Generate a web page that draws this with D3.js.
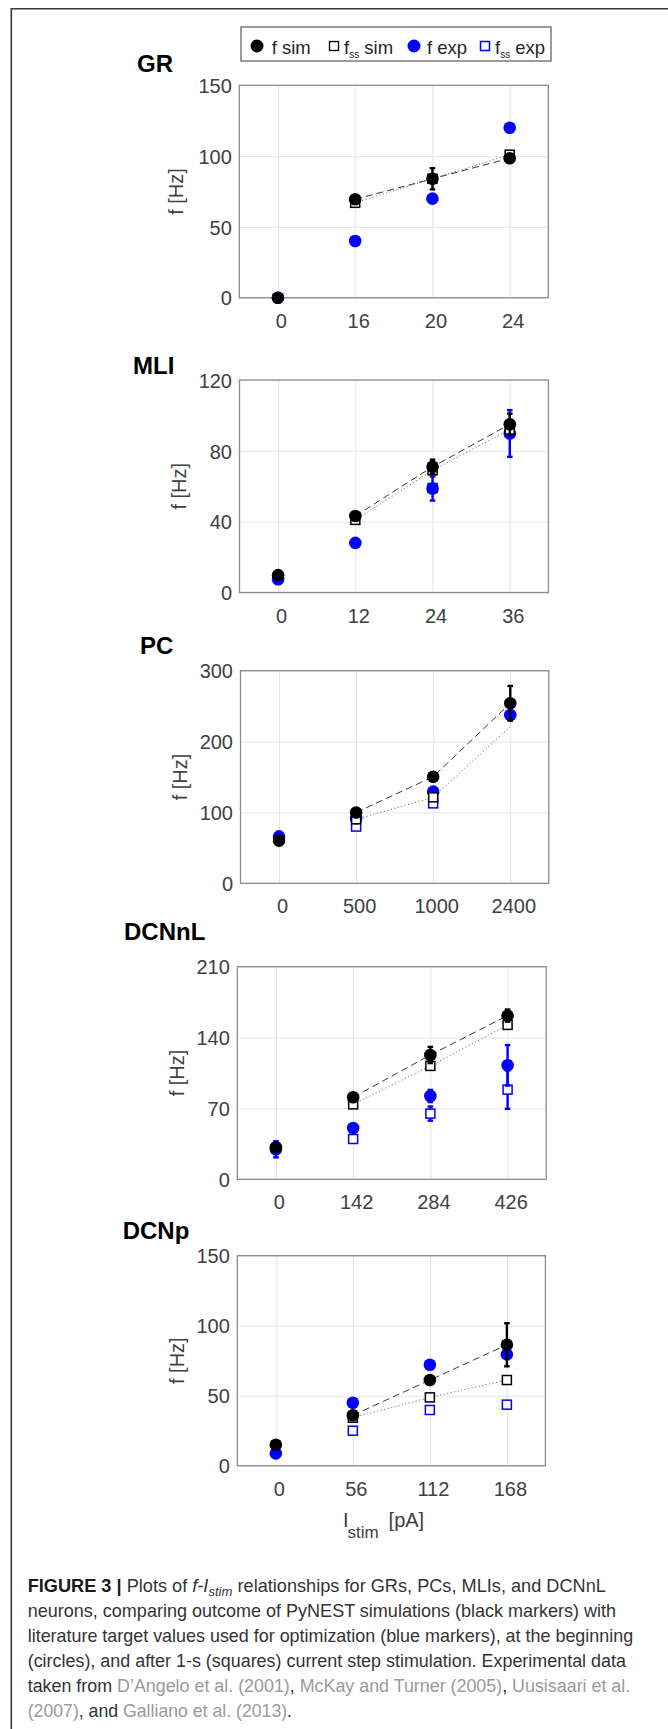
<!DOCTYPE html>
<html>
<head>
<meta charset="utf-8">
<script src="https://cdn.jsdelivr.net/npm/d3@7"></script>
<style>
  html, body { margin: 0; padding: 0; background: #fff; }
  svg { display: block; font-family: "Liberation Sans", Arial, Helvetica, sans-serif; }
</style>
</head>
<body>
<svg id="fig" width="668" height="1729"></svg>
<script>
// ---- f-I data per cell type (Hz); null = no marker ----
// GR
const grStim      = ["0", "16", "20", "24"];
const grFSim      = [0, 69.5, 84, 98.5];
const grFSimErr   = [0, 0, 7.5, 0];
const grFssSim    = [null, 67, 84, 101];
const grFExp      = [0, 40, 70, 120];
const grFExpErr   = [0, 0, 0, 0];
const grFssExp    = [null, null, null, null];
const grFssExpErr = [0, 0, 0, 0];
const grYTicks    = [0, 50, 100, 150];

// MLI
const mliStim      = ["0", "12", "24", "36"];
const mliFSim      = [9.8, 43.2, 71, 95];
const mliFSimErr   = [0, 0, 4, 6];
const mliFssSim    = [null, 41, 69, 92];
const mliFExp      = [7.5, 28, 58.7, 89.8];
const mliFExpErr   = [2, 0, 6.8, 13.2];
const mliFssExp    = [null, null, 59, 90.5];
const mliFssExpErr = [0, 0, 0, 0];
const mliYTicks    = [0, 40, 80, 120];

// PC (steady-state sim at 2400 pA is joined by the dotted line but carries no marker)
const pcStim       = ["0", "500", "1000", "2400"];
const pcFSim       = [60.2, 100, 150.4, 254];
const pcFSimErr    = [0, 0, 0, 24.5];
const pcFssSim     = [null, 90.3, 121.3, 221];
const pcFssSimMark = [true, true, true, false];
const pcFExp       = [65.8, 91.7, 129.3, 237.4];
const pcFExpErr    = [7, 0, 0, 0];
const pcFssExp     = [null, 80, 112.8, null];
const pcFssExpErr  = [0, 0, 0, 0];
const pcYTicks     = [0, 100, 200, 300];

// DCNnL
const dcnlStim      = ["0", "142", "284", "426"];
const dcnlFSim      = [31.6, 81, 122.8, 161.7];
const dcnlFSimErr   = [0, 0, 8, 6];
const dcnlFssSim    = [null, 74, 112, 152.5];
const dcnlFExp      = [29.6, 50.7, 82.3, 112.6];
const dcnlFExpErr   = [8, 0, 6, 20];
const dcnlFssExp    = [null, 39.8, 64.9, 88.6];
const dcnlFssExpErr = [0, 0, 7, 19];
const dcnlYTicks    = [0, 70, 140, 210];

// DCNp
const dcnpStim      = ["0", "56", "112", "168"];
const dcnpFSim      = [15, 36, 61.2, 86.4];
const dcnpFSimErr   = [0, 0, 0, 15.4];
const dcnpFssSim    = [null, 34.3, 48.8, 61.2];
const dcnpFExp      = [8.8, 45, 72.1, 79.5];
const dcnpFExpErr   = [0, 0, 0, 0];
const dcnpFssExp    = [null, 25, 39.8, 43.6];
const dcnpFssExpErr = [0, 0, 0, 0];
const dcnpYTicks    = [0, 50, 100, 150];

const panelNames = ["GR", "MLI", "PC", "DCNnL", "DCNp"];
const legendLabels = ["f sim", "f_ss sim", "f exp", "f_ss exp"];

// ---- assemble panel records ----
const panels = [
  [grStim, grFSim, grFSimErr, grFssSim, grFExp, grFExpErr, grFssExp, grFssExpErr, grYTicks, null],
  [mliStim, mliFSim, mliFSimErr, mliFssSim, mliFExp, mliFExpErr, mliFssExp, mliFssExpErr, mliYTicks, null],
  [pcStim, pcFSim, pcFSimErr, pcFssSim, pcFExp, pcFExpErr, pcFssExp, pcFssExpErr, pcYTicks, pcFssSimMark],
  [dcnlStim, dcnlFSim, dcnlFSimErr, dcnlFssSim, dcnlFExp, dcnlFExpErr, dcnlFssExp, dcnlFssExpErr, dcnlYTicks, null],
  [dcnpStim, dcnpFSim, dcnpFSimErr, dcnpFssSim, dcnpFExp, dcnpFExpErr, dcnpFssExp, dcnpFssExpErr, dcnpYTicks, null]
].map((a, i) => ({
  name: panelNames[i], stim: a[0], fSim: a[1], fSimErr: a[2], fssSim: a[3],
  fExp: a[4], fExpErr: a[5], fssExp: a[6], fssExpErr: a[7], yTicks: a[8],
  fssSimMark: a[9] || a[0].map(() => true)
}));

// ---- page layout of the five axes ----
const layout = [
  { left: 239.3, right: 548.3, top: 85.3,  bottom: 297.7,  titleX: 137,   titleY: 71.5,  ylabX: 176 },
  { left: 239.5, right: 548.4, top: 380,   bottom: 592.5,  titleX: 133,   titleY: 373.5, ylabX: 179 },
  { left: 240.5, right: 548.8, top: 670.7, bottom: 883.3,  titleX: 140,   titleY: 653.5, ylabX: 180 },
  { left: 237.3, right: 546.2, top: 966.7, bottom: 1179.3, titleX: 124,   titleY: 940,   ylabX: 177 },
  { left: 237.3, right: 545.4, top: 1255.7,bottom: 1465.7, titleX: 122.7, titleY: 1239,  ylabX: 177 }
];

const BLUE = "#0000ff";
const TXT = "#404040";
const svg = d3.select("#fig");

// outer frame (top and left rules)
svg.append("path")
  .attr("d", "M11.3,1729 L11.3,8.7 L668,8.7")
  .attr("fill", "none").attr("stroke", "#3a3a3a").attr("stroke-width", 1.6);

// ---- legend ----
const lg = svg.append("g");
lg.append("rect").attr("x", 241).attr("y", 27).attr("width", 310).attr("height", 34)
  .attr("fill", "#fff").attr("stroke", "#3a3a3a").attr("stroke-width", 1);

function legendText(x, label) {
  const t = lg.append("text").attr("x", x).attr("y", 53.5)
    .attr("font-size", 18.5).attr("fill", "#262626");
  const parts = label.split("_");
  if (parts.length === 1) {
    t.text(label);
  } else {
    const rest = parts[1].split(" ");
    t.append("tspan").text(parts[0]);
    t.append("tspan").attr("font-size", 10).attr("dy", 4).text(rest[0]);
    t.append("tspan").attr("dy", -4).text(" " + rest.slice(1).join(" "));
  }
}
lg.append("circle").attr("cx", 257).attr("cy", 46).attr("r", 6.5).attr("fill", "#000");
legendText(271.7, legendLabels[0]);
lg.append("rect").attr("x", 334 - 4.5).attr("y", 46 - 4.5).attr("width", 9).attr("height", 9)
  .attr("fill", "#fff").attr("stroke", "#000").attr("stroke-width", 1.3);
legendText(344, legendLabels[1]);
lg.append("circle").attr("cx", 414).attr("cy", 46).attr("r", 6.5).attr("fill", BLUE);
legendText(427, legendLabels[2]);
lg.append("rect").attr("x", 485 - 4.5).attr("y", 46 - 4.5).attr("width", 9).attr("height", 9)
  .attr("fill", "#fff").attr("stroke", BLUE).attr("stroke-width", 1.5);
legendText(495, legendLabels[3]);

// ---- panels ----
panels.forEach((p, i) => {
  const L = layout[i];
  const w = L.right - L.left, h = L.bottom - L.top;
  const x = d3.scalePoint().domain(p.stim).range([L.left, L.right]).padding(0.5);
  const y = d3.scaleLinear().domain([0, d3.max(p.yTicks)]).range([L.bottom, L.top]);
  const g = svg.append("g");

  // title
  g.append("text").attr("x", L.titleX).attr("y", L.titleY)
    .attr("font-size", 24).attr("font-weight", "bold").attr("fill", "#000").text(p.name);

  // grid
  const gx = g.append("g").attr("transform", `translate(0,${L.bottom})`)
    .call(d3.axisBottom(x).tickSize(-h).tickFormat(""));
  const gy = g.append("g").attr("transform", `translate(${L.left},0)`)
    .call(d3.axisLeft(y).tickValues(p.yTicks).tickSize(-w).tickFormat(""));
  [gx, gy].forEach(a => {
    a.select(".domain").remove();
    a.selectAll("line").attr("stroke", "#e6e6e6").attr("stroke-width", 1);
  });

  // box
  g.append("rect").attr("x", L.left).attr("y", L.top).attr("width", w).attr("height", h)
    .attr("fill", "none").attr("stroke", "#8c8c8c").attr("stroke-width", 1.3);

  // tick labels
  const ax = g.append("g").attr("transform", `translate(0,${L.bottom})`)
    .call(d3.axisBottom(x).tickSize(0));
  ax.select(".domain").remove();
  ax.selectAll("text").attr("y", 30).attr("dy", null).attr("dx", 3)
    .attr("font-size", 20).attr("font-family", null).attr("fill", TXT);
  const ay = g.append("g").attr("transform", `translate(${L.left},0)`)
    .call(d3.axisLeft(y).tickValues(p.yTicks).tickSize(0).tickPadding(7.5));
  ay.select(".domain").remove();
  ay.selectAll("text").attr("font-size", 20).attr("font-family", null).attr("fill", TXT)
    .attr("dy", "0.36em");

  // y label
  g.append("text")
    .attr("transform", `translate(${L.ylabX},${(L.top + L.bottom) / 2}) rotate(-90)`)
    .attr("text-anchor", "middle").attr("dy", "0.35em")
    .attr("font-size", 20).attr("fill", TXT).text("f [Hz]");

  const idx = d3.range(p.stim.length);
  const pts = (vals) => idx.map(k => ({ k, v: vals[k] }));

  // connecting lines for the stimulated steps
  const line = d3.line().defined(d => d.v != null && d.k > 0)
    .x(d => x(p.stim[d.k])).y(d => y(d.v));
  g.append("path").datum(pts(p.fssSim)).attr("d", line)
    .attr("fill", "none").attr("stroke", "#707070").attr("stroke-width", 1)
    .attr("stroke-dasharray", "1.2,2.4");
  g.append("path").datum(pts(p.fSim)).attr("d", line)
    .attr("fill", "none").attr("stroke", "#3a3a3a").attr("stroke-width", 1)
    .attr("stroke-dasharray", "7,4");

  function errBars(vals, errs, color) {
    const d = pts(vals).filter(o => o.v != null && errs[o.k] > 0);
    const eg = g.append("g").attr("stroke", color).attr("stroke-width", 2.4);
    d.forEach(o => {
      const cx = x(p.stim[o.k]);
      const y0 = y(o.v - errs[o.k]), y1 = y(o.v + errs[o.k]);
      eg.append("line").attr("x1", cx).attr("x2", cx).attr("y1", y0).attr("y2", y1);
      eg.append("line").attr("x1", cx - 2.8).attr("x2", cx + 2.8).attr("y1", y0).attr("y2", y0);
      eg.append("line").attr("x1", cx - 2.8).attr("x2", cx + 2.8).attr("y1", y1).attr("y2", y1);
    });
  }
  function squares(vals, color, shown) {
    g.append("g").selectAll("rect")
      .data(pts(vals).filter(o => o.v != null && (!shown || shown[o.k]))).join("rect")
      .attr("x", o => x(p.stim[o.k]) - 4.5).attr("y", o => y(o.v) - 4.5)
      .attr("width", 9).attr("height", 9)
      .attr("fill", "#fff").attr("stroke", color).attr("stroke-width", 1.5);
  }
  function circles(vals, color) {
    g.append("g").selectAll("circle").data(pts(vals).filter(o => o.v != null)).join("circle")
      .attr("cx", o => x(p.stim[o.k])).attr("cy", o => y(o.v)).attr("r", 6.3)
      .attr("fill", color);
  }

  errBars(p.fssExp, p.fssExpErr, BLUE);
  squares(p.fssExp, BLUE);
  errBars(p.fExp, p.fExpErr, BLUE);
  circles(p.fExp, BLUE);
  squares(p.fssSim, "#000", p.fssSimMark);
  errBars(p.fSim, p.fSimErr, "#000");
  circles(p.fSim, "#000");
});

// x-axis label under the last panel
const xl = svg.append("text").attr("font-size", 20).attr("fill", TXT);
xl.append("tspan").attr("x", 343).attr("y", 1527).text("I");
xl.append("tspan").attr("x", 347.5).attr("y", 1537.5).attr("font-size", 17).text("stim");
xl.append("tspan").attr("x", 388.6).attr("y", 1527).text("[pA]");

// ---- caption ----
const DARK = "#333", GREY = "#9a9a9a";
const captionLines = [
  [{ t: "FIGURE 3 | ", b: true, c: "#1a1a1a" }, { t: "Plots of " }, { t: "f-I", it: true },
   { t: "stim", it: true, sub: true }, { t: " relationships for GRs, PCs, MLIs, and DCNnL" }],
  [{ t: "neurons, comparing outcome of PyNEST simulations (black markers) with" }],
  [{ t: "literature target values used for optimization (blue markers), at the beginning" }],
  [{ t: "(circles), and after 1-s (squares) current step stimulation. Experimental data" }],
  [{ t: "taken from " }, { t: "D\u2019Angelo et al. (2001)", c: GREY }, { t: ", " },
   { t: "McKay and Turner (2005)", c: GREY }, { t: ", " }, { t: "Uusisaari et al.", c: GREY }],
  [{ t: "(2007)", c: GREY }, { t: ", and " }, { t: "Galliano et al. (2013)", c: GREY }, { t: "." }]
];
const capBase = [1591.5, 1617, 1642.3, 1667.2, 1692.2, 1717.2];
const capRight = [606, 616.7, 633.4, 626, 630.7, 292.3];
const capLeft = 27.7;

captionLines.forEach((segs, i) => {
  const t = svg.append("text").attr("font-size", 18).attr("fill", DARK)
    .attr("transform", `translate(${capLeft},${capBase[i]})`);
  let shifted = false;
  segs.forEach(s => {
    const sp = t.append("tspan").text(s.t);
    if (s.b) sp.attr("font-weight", "bold");
    if (s.it) sp.attr("font-style", "italic");
    if (s.c) sp.attr("fill", s.c);
    if (s.sub) { sp.attr("font-size", 13).attr("dy", 4); shifted = true; }
    else if (shifted) { sp.attr("dy", -4); shifted = false; }
  });
  const wNat = t.node().getComputedTextLength();
  const sx = (capRight[i] - capLeft) / wNat;
  t.attr("transform", `translate(${capLeft},${capBase[i]}) scale(${sx},1)`);
});
</script>
</body>
</html>
